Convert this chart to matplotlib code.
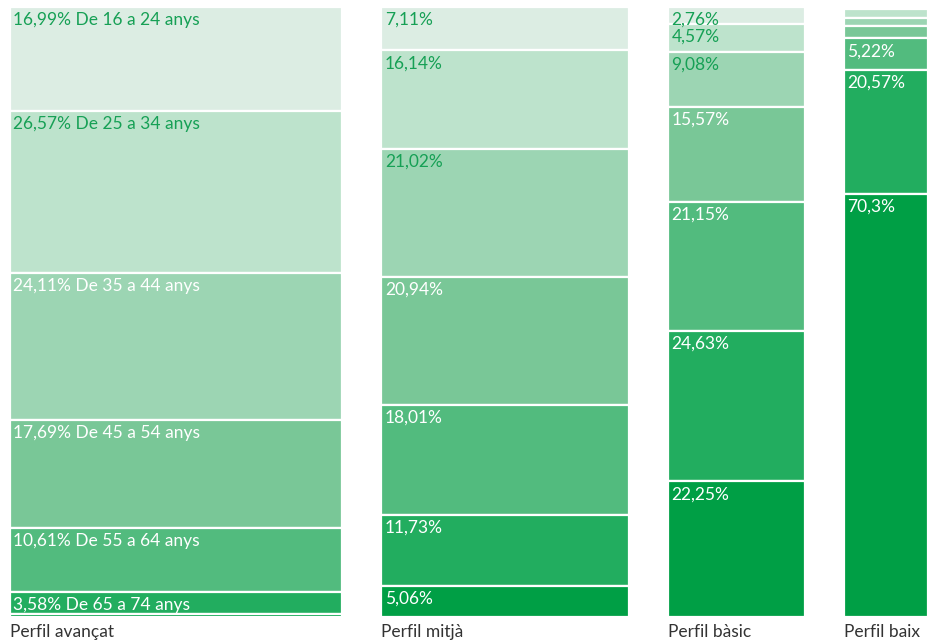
import matplotlib.pyplot as plt
from matplotlib import transforms

# column labels and widths (share of population, %)
profiles = ['Perfil avançat', 'Perfil mitjà', 'Perfil bàsic', 'Perfil baix']
widths = [41.5, 30.9, 17.1, 10.5]

# age groups, from top to bottom
ages = ['De 16 a 24 anys', 'De 25 a 34 anys', 'De 35 a 44 anys', 'De 45 a 54 anys',
        'De 55 a 64 anys', 'De 65 a 74 anys', 'De 75 anys o més']

avancat = [16.99, 26.57, 24.11, 17.69, 10.61, 3.58, 0.45]
mitja = [7.11, 16.14, 21.02, 20.94, 18.01, 11.73, 5.06]
basic = [2.76, 4.57, 9.08, 15.57, 21.15, 24.63, 22.25]
baix = [0.4, 1.5, 1.2, 2.1, 5.22, 20.57, 70.3]
shares = [avancat, mitja, basic, baix]

colors = ['#dcede3', '#bde3cc', '#9cd5b3', '#79c797', '#52bb7e', '#22ad5f', '#009f45']
green_txt = '#16a055'
gap = 4.91

plt.rcParams['font.family'] = ['Lato', 'DejaVu Sans']

fig = plt.figure(figsize=(9.39, 6.41), dpi=100)
ax = fig.add_axes([10/939, 24/641, 918/939, 610/641])
ax.set_xlim(0, sum(widths) + gap*(len(widths)-1))
ax.set_ylim(0, 100)
ax.invert_yaxis()
ax.axis('off')

x = 0
for ci, (name, w, vals) in enumerate(zip(profiles, widths, shares)):
    total = sum(vals)
    top = 0
    for si, v in enumerate(vals):
        h = v / total * 100
        ax.bar(x, h, width=w, bottom=top, align='edge', color=colors[si],
               edgecolor='white', linewidth=1.6)
        # labels only where the segment is big enough
        if v >= 2.5:
            txt = f'{v:.2f}'.rstrip('0').rstrip('.').replace('.', ',') + '%'
            if ci == 0:
                txt += ' ' + ages[si]
            dark = si < 2 or (si == 2 and ci > 0)
            off = transforms.offset_copy(ax.transData, fig=fig, x=2.5, y=-3.5, units='points')
            ax.text(x, top, txt, transform=off, ha='left', va='top', fontsize=12.5,
                    color=green_txt if dark else 'white')
        top += h
    off = transforms.offset_copy(ax.transData, fig=fig, x=0, y=-5, units='points')
    ax.text(x, 100, name, transform=off, ha='left', va='top', fontsize=12.5,
            color='#333333')
    x += w + gap

fig.savefig('out.png')
